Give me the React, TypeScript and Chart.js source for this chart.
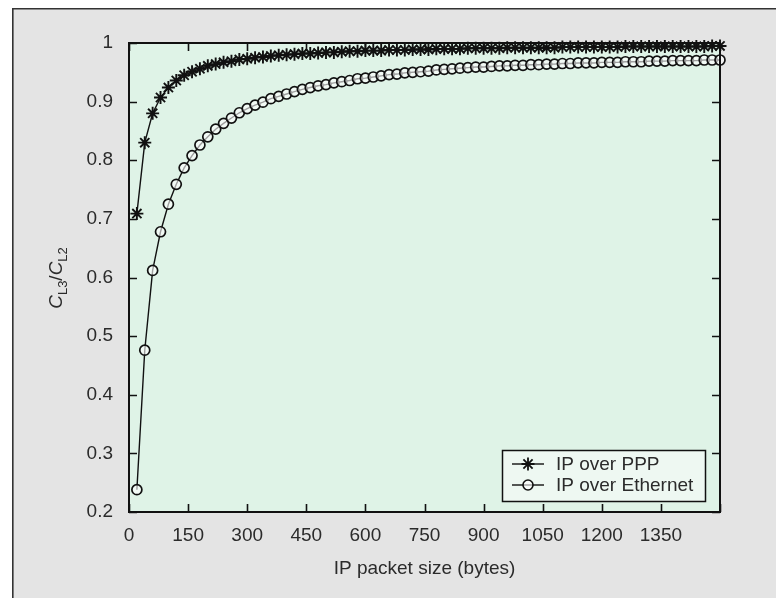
import React, { useEffect, useRef } from "react";
import { Chart, registerables } from "chart.js";

Chart.register(...registerables);

// ---------------- data ----------------
const packetSizes = [
  20, 40, 60, 80, 100, 120, 140, 160, 180, 200,
  220, 240, 260, 280, 300, 320, 340, 360, 380, 400,
  420, 440, 460, 480, 500, 520, 540, 560, 580, 600,
  620, 640, 660, 680, 700, 720, 740, 760, 780, 800,
  820, 840, 860, 880, 900, 920, 940, 960, 980, 1000,
  1020, 1040, 1060, 1080, 1100, 1120, 1140, 1160, 1180, 1200,
  1220, 1240, 1260, 1280, 1300, 1320, 1340, 1360, 1380, 1400,
  1420, 1440, 1460, 1480, 1500,
];

const pppRatio = [
  0.709, 0.830, 0.880, 0.907, 0.924, 0.936, 0.945, 0.951, 0.956, 0.961,
  0.964, 0.967, 0.969, 0.972, 0.973, 0.975, 0.976, 0.978, 0.979, 0.980,
  0.981, 0.982, 0.982, 0.983, 0.984, 0.984, 0.985, 0.986, 0.986, 0.987,
  0.987, 0.987, 0.988, 0.988, 0.988, 0.989, 0.989, 0.989, 0.990, 0.990,
  0.990, 0.990, 0.991, 0.991, 0.991, 0.991, 0.991, 0.992, 0.992, 0.992,
  0.992, 0.992, 0.992, 0.992, 0.993, 0.993, 0.993, 0.993, 0.993, 0.993,
  0.993, 0.993, 0.994, 0.994, 0.994, 0.994, 0.994, 0.994, 0.994, 0.994,
  0.994, 0.994, 0.994, 0.995, 0.995,
];

const ethernetRatio = [
  0.238, 0.476, 0.612, 0.678, 0.725, 0.759, 0.787, 0.808, 0.826, 0.840,
  0.853, 0.863, 0.872, 0.881, 0.888, 0.894, 0.899, 0.905, 0.909, 0.913,
  0.917, 0.921, 0.924, 0.927, 0.929, 0.932, 0.934, 0.936, 0.939, 0.940,
  0.942, 0.944, 0.946, 0.947, 0.949, 0.950, 0.951, 0.952, 0.954, 0.955,
  0.956, 0.957, 0.958, 0.959, 0.959, 0.960, 0.961, 0.961, 0.962, 0.962,
  0.963, 0.963, 0.964, 0.964, 0.965, 0.965, 0.966, 0.966, 0.966, 0.967,
  0.967, 0.967, 0.968, 0.968, 0.968, 0.969, 0.969, 0.969, 0.970, 0.970,
  0.970, 0.970, 0.971, 0.971, 0.971,
];

const xTickValues = [0, 150, 300, 450, 600, 750, 900, 1050, 1200, 1350, 1500];
const xTickLabels = ["0", "150", "300", "450", "600", "750", "900", "1050", "1200", "1350", ""];
const yTickValues = [0.2, 0.3, 0.4, 0.5, 0.6, 0.7, 0.8, 0.9, 1.0];
const yTickLabels = ["0.2", "0.3", "0.4", "0.5", "0.6", "0.7", "0.8", "0.9", "1"];

const seriesNames = ["IP over PPP", "IP over Ethernet"];
const xAxisTitle = "IP packet size (bytes)";
const yAxisTitleParts = [
  { text: "C", sub: false },
  { text: "L3", sub: true },
  { text: "/", sub: false },
  { text: "C", sub: false },
  { text: "L2", sub: true },
];

// ---------------- styles ----------------
const FONT = '"Liberation Sans", Arial, sans-serif';
const TEXT = "#2b2b2b";
const INK = "#111111";
const PAGE_BG = "#e4e4e4";
const PLOT_BG = "#dff3e7";
const LEGEND_BG = "#eef8f2";

function drawStar(ctx: CanvasRenderingContext2D, x: number, y: number, r: number) {
  ctx.beginPath();
  ctx.moveTo(x - r, y);
  ctx.lineTo(x + r, y);
  ctx.moveTo(x, y - r);
  ctx.lineTo(x, y + r);
  const d = r * Math.SQRT1_2;
  ctx.moveTo(x - d, y - d);
  ctx.lineTo(x + d, y + d);
  ctx.moveTo(x - d, y + d);
  ctx.lineTo(x + d, y - d);
  ctx.stroke();
}

const decorPlugin = {
  id: "decor",
  beforeDraw(chart: any) {
    const { ctx, chartArea: a, width, height } = chart;
    ctx.save();
    ctx.fillStyle = "#ffffff";
    ctx.fillRect(0, 0, width, height);
    ctx.fillStyle = PAGE_BG;
    ctx.fillRect(12, 8, width - 12, height - 8);
    ctx.strokeStyle = "#333";
    ctx.lineWidth = 1.6;
    ctx.beginPath();
    ctx.moveTo(12.8, height);
    ctx.lineTo(12.8, 8.8);
    ctx.lineTo(width, 8.8);
    ctx.stroke();
    ctx.fillStyle = PLOT_BG;
    ctx.fillRect(a.left, a.top, a.right - a.left, a.bottom - a.top);
    ctx.restore();
  },
  afterDatasetsDraw(chart: any) {
    const { ctx, chartArea: a } = chart;
    const xs = chart.scales.x;
    const ys = chart.scales.y;
    ctx.save();
    // frame
    ctx.strokeStyle = INK;
    ctx.lineWidth = 2;
    ctx.strokeRect(a.left, a.top, a.right - a.left, a.bottom - a.top);
    // inward ticks
    ctx.lineWidth = 1.6;
    const tl = 8;
    ctx.beginPath();
    xTickValues.forEach((v) => {
      const px = Math.round(xs.getPixelForValue(v)) + 0.5;
      ctx.moveTo(px, a.bottom);
      ctx.lineTo(px, a.bottom - tl);
      ctx.moveTo(px, a.top);
      ctx.lineTo(px, a.top + tl);
    });
    yTickValues.forEach((v) => {
      const py = Math.round(ys.getPixelForValue(v)) + 0.5;
      ctx.moveTo(a.left, py);
      ctx.lineTo(a.left + tl, py);
      ctx.moveTo(a.right, py);
      ctx.lineTo(a.right - tl, py);
    });
    ctx.stroke();

    // legend
    const lx = 502, ly = 450, lw = 203, lh = 51;
    ctx.fillStyle = LEGEND_BG;
    ctx.fillRect(lx, ly, lw, lh);
    ctx.strokeStyle = INK;
    ctx.lineWidth = 1.5;
    ctx.strokeRect(lx + 0.5, ly + 0.5, lw, lh);
    const rows = [464, 485];
    ctx.font = `19px ${FONT}`;
    ctx.textBaseline = "middle";
    ctx.textAlign = "left";
    rows.forEach((ry, i) => {
      ctx.strokeStyle = INK;
      ctx.lineWidth = 1.4;
      ctx.beginPath();
      ctx.moveTo(512, ry);
      ctx.lineTo(544, ry);
      ctx.stroke();
      if (i === 0) {
        ctx.lineWidth = 1.8;
        drawStar(ctx, 528, ry, 6.5);
      } else {
        ctx.lineWidth = 1.6;
        ctx.beginPath();
        ctx.arc(528, ry, 5, 0, Math.PI * 2);
        ctx.fillStyle = "rgba(255,255,255,0.6)";
        ctx.fill();
        ctx.stroke();
      }
      ctx.fillStyle = TEXT;
      ctx.fillText(seriesNames[i], 556, ry + 1);
    });

    // y-axis title with subscripts
    ctx.translate(62, 278);
    ctx.rotate(-Math.PI / 2);
    const mainFont = `italic 19px ${FONT}`;
    const subFont = `13px ${FONT}`;
    let total = 0;
    yAxisTitleParts.forEach((p) => {
      ctx.font = p.sub ? subFont : p.text === "/" ? `19px ${FONT}` : mainFont;
      total += ctx.measureText(p.text).width;
    });
    let cx = -total / 2;
    ctx.textBaseline = "alphabetic";
    ctx.fillStyle = TEXT;
    yAxisTitleParts.forEach((p) => {
      ctx.font = p.sub ? subFont : p.text === "/" ? `19px ${FONT}` : mainFont;
      ctx.fillText(p.text, cx, p.sub ? 5 : 0);
      cx += ctx.measureText(p.text).width;
    });
    ctx.restore();
  },
};

export default function App() {
  const ref = useRef<HTMLCanvasElement | null>(null);

  useEffect(() => {
    if (!ref.current) return;
    const chart = new Chart(ref.current, {
      type: "line",
      data: {
        datasets: [
          {
            label: seriesNames[0],
            data: packetSizes.map((x, i) => ({ x, y: pppRatio[i] })),
            borderColor: INK,
            borderWidth: 1.4,
            pointStyle: "star",
            pointRadius: 6.5,
            pointBorderWidth: 1.9,
            pointBorderColor: INK,
            pointBackgroundColor: INK,
            tension: 0,
            clip: false as any,
          },
          {
            label: seriesNames[1],
            data: packetSizes.map((x, i) => ({ x, y: ethernetRatio[i] })),
            borderColor: INK,
            borderWidth: 1.4,
            pointStyle: "circle",
            pointRadius: 5,
            pointBorderWidth: 1.7,
            pointBorderColor: INK,
            pointBackgroundColor: "rgba(255,255,255,0.6)",
            tension: 0,
            clip: false as any,
          },
        ],
      },
      options: {
        responsive: false,
        animation: false,
        events: [],
        layout: { padding: { left: 0, top: 43, right: 56, bottom: 0 } },
        plugins: {
          legend: { display: false },
          tooltip: { enabled: false },
          title: { display: false },
        },
        scales: {
          x: {
            type: "linear",
            min: 0,
            max: 1500,
            afterBuildTicks: (s: any) => {
              s.ticks = xTickValues.map((v) => ({ value: v }));
            },
            afterFit: (s: any) => {
              s.height = 86;
            },
            ticks: {
              autoSkip: false,
              maxRotation: 0,
              padding: 12,
              color: TEXT,
              font: { family: FONT, size: 19 },
              callback: (_v: any, i: number) => xTickLabels[i],
            },
            grid: { display: false, drawTicks: false },
            border: { display: false },
            title: {
              display: true,
              text: xAxisTitle,
              color: TEXT,
              font: { family: FONT, size: 19 },
              padding: { top: 0, bottom: 18 },
            },
          },
          y: {
            type: "linear",
            min: 0.2,
            max: 1,
            afterBuildTicks: (s: any) => {
              s.ticks = yTickValues.map((v) => ({ value: v }));
            },
            afterFit: (s: any) => {
              s.width = 129;
            },
            ticks: {
              autoSkip: false,
              padding: 16,
              color: TEXT,
              font: { family: FONT, size: 19 },
              callback: (_v: any, i: number) => yTickLabels[i],
            },
            grid: { display: false, drawTicks: false },
            border: { display: false },
          },
        },
      },
      plugins: [decorPlugin],
    });
    return () => chart.destroy();
  }, []);

  return (
    <canvas
      ref={ref}
      width={776}
      height={598}
      style={{ position: "fixed", left: 0, top: 0, width: 776, height: 598 }}
    />
  );
}
